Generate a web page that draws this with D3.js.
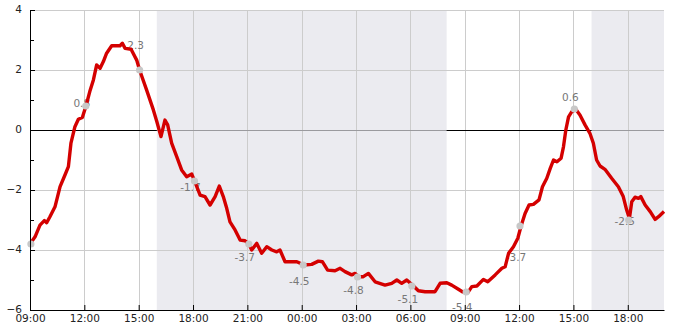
<!DOCTYPE html>
<html><head><meta charset="utf-8">
<script src="https://cdn.jsdelivr.net/npm/d3@7"></script>
<style>body{margin:0;background:#fff;} svg{display:block;font-family:"DejaVu Sans",sans-serif;}</style>
</head><body><svg id="c" width="685" height="330"></svg>
<script>
// ---- data ----
const hours = [0.00,0.28,0.55,0.79,0.92,1.10,1.38,1.66,1.93,2.12,2.26,2.48,2.67,2.89,3.09,3.30,3.50,3.68,3.87,4.05,4.23,4.51,4.97,5.10,5.25,5.58,5.89,6.05,6.44,6.81,7.00,7.23,7.45,7.60,7.82,8.10,8.37,8.65,8.93,9.10,9.39,9.66,9.94,10.22,10.45,10.67,10.86,11.04,11.32,11.60,11.87,12.09,12.24,12.52,12.79,13.07,13.35,13.62,13.80,14.08,14.73,15.13,15.55,15.92,16.14,16.43,16.84,17.12,17.39,17.76,17.95,18.13,18.40,18.68,19.05,19.60,19.97,20.25,20.52,20.80,21.17,21.44,21.81,22.36,22.64,23.01,23.28,23.65,23.87,24.17,24.39,24.67,25.03,25.27,25.68,26.05,26.23,26.42,26.69,26.93,27.11,27.33,27.55,27.79,28.10,28.29,28.53,28.72,28.90,29.09,29.32,29.45,29.58,29.73,29.91,30.13,30.36,30.64,30.91,31.10,31.28,31.47,31.74,32.11,32.48,32.75,32.94,33.09,33.22,33.40,33.59,33.72,33.96,34.24,34.51,34.70,35.00];
const values = [-3.8,-3.56,-3.17,-3.02,-3.09,-2.89,-2.56,-1.89,-1.5,-1.22,-0.44,0.11,0.36,0.42,0.8,1.28,1.67,2.17,2.06,2.28,2.56,2.81,2.81,2.89,2.72,2.69,2.33,2.0,1.33,0.67,0.28,-0.22,0.33,0.17,-0.44,-0.89,-1.33,-1.56,-1.47,-1.72,-2.17,-2.22,-2.5,-2.22,-1.87,-2.22,-2.61,-3.06,-3.33,-3.67,-3.69,-3.8,-4.0,-3.78,-4.11,-3.89,-4.0,-4.06,-4.0,-4.39,-4.39,-4.5,-4.48,-4.37,-4.39,-4.67,-4.69,-4.61,-4.72,-4.83,-4.78,-4.89,-4.89,-4.78,-5.06,-5.17,-5.11,-5.0,-5.11,-5.0,-5.2,-5.36,-5.39,-5.39,-5.11,-5.09,-5.17,-5.31,-5.39,-5.42,-5.22,-5.2,-4.98,-5.06,-4.83,-4.61,-4.56,-4.11,-3.89,-3.61,-3.2,-2.78,-2.5,-2.48,-2.33,-1.89,-1.61,-1.28,-1.0,-1.06,-0.94,-0.56,0.0,0.44,0.61,0.69,0.5,0.17,-0.11,-0.44,-1.0,-1.2,-1.31,-1.61,-1.89,-2.22,-2.67,-2.95,-2.39,-2.24,-2.28,-2.22,-2.5,-2.72,-2.98,-2.89,-2.72];
const annoHours  = [0.05,3.08,6.05,9.08,12.08,15.08,18.08,21.08,24.08,27.05,30.05,33.05];
const annoValues = [-3.8,0.8,2.0,-1.7,-3.8,-4.5,-4.9,-5.2,-5.4,-3.2,0.7,-3.0];
const annoLabels = ["","0.8","2.3","-1.7","-3.7","-4.5","-4.8","-5.1","-5.4","-3.7","0.6","-2.5"];
const nightStart = [7,31];
const nightEnd   = [23,35];
const yTicks = [-6,-4,-2,0,2,4];
const yMinorTicks = [-5,-3,-1,1,3];
const startTime = new Date(2024,0,1,9,0);
const totalHours = 35;

// ---- style (label placement, px relative to the dot) ----
const labelDy = [0,1,-21,10,17,20,17,17,19,35,-8,5];

const svg = d3.select("#c");
const L=30, R=664, T=10, B=310;
const toDate = h => new Date(startTime.getTime()+h*3600e3);
const x = d3.scaleTime().domain([startTime,toDate(totalHours)]).range([L,R]);
const y = d3.scaleLinear().domain([-6,4]).range([B,T]);

// night shading
svg.selectAll("rect.night").data(nightStart.map((s,i)=>[s,nightEnd[i]])).enter().append("rect")
  .attr("x",d=>x(toDate(d[0]))).attr("y",T)
  .attr("width",d=>x(toDate(d[1]))-x(toDate(d[0]))).attr("height",B-T)
  .attr("fill","#ebebf0");

// grid
const xGrid = x.ticks(d3.timeHour.every(3)).filter(t=>x(t)>L+1);
svg.selectAll("line.vg").data(xGrid).enter().append("line")
  .attr("x1",d=>Math.round(x(d))+0.5).attr("x2",d=>Math.round(x(d))+0.5).attr("y1",T).attr("y2",B)
  .attr("stroke","#cccccc").attr("stroke-width",1);
svg.selectAll("line.hg").data(yTicks.filter(v=>v!==0&&v!==-6)).enter().append("line")
  .attr("x1",L).attr("x2",R).attr("y1",d=>Math.round(y(d))+0.5).attr("y2",d=>Math.round(y(d))+0.5)
  .attr("stroke","#cccccc").attr("stroke-width",1);

// zero line: black on day, grey in night regions
svg.append("line").attr("x1",L).attr("x2",R).attr("y1",Math.round(y(0))+0.5).attr("y2",Math.round(y(0))+0.5)
  .attr("stroke","#000").attr("stroke-width",1);
svg.selectAll("line.zn").data(nightStart.map((s,i)=>[s,nightEnd[i]])).enter().append("line")
  .attr("x1",d=>x(toDate(d[0]))).attr("x2",d=>x(toDate(d[1])))
  .attr("y1",Math.round(y(0))+0.5).attr("y2",Math.round(y(0))+0.5)
  .attr("stroke","#9a9a9e").attr("stroke-width",1);

// annotation labels (below line)
svg.selectAll("text.al").data(annoLabels.map((t,i)=>({t,i}))).enter().append("text")
  .attr("x",d=>x(toDate(annoHours[d.i]))-4)
  .attr("y",d=>y(annoValues[d.i])+labelDy[d.i])
  .attr("text-anchor","middle").attr("font-size",10.5).attr("fill","#777")
  .text(d=>d.t);

// series line
const pts = hours.map((h,i)=>[toDate(h),values[i]]);
svg.append("path").datum(pts)
  .attr("d",d3.line().x(d=>x(d[0])).y(d=>y(d[1])))
  .attr("fill","none").attr("stroke","#d40000").attr("stroke-width",3.4).attr("stroke-linejoin","round");

// annotation dots
svg.selectAll("circle.ad").data(annoHours.map((h,i)=>[toDate(h),annoValues[i]])).enter().append("circle")
  .attr("cx",d=>x(d[0])).attr("cy",d=>y(d[1])).attr("r",3.6).attr("fill","#c8c8c8");

// axes
const gy = svg.append("g").attr("transform",`translate(${L},0)`)
  .call(d3.axisLeft(y).tickValues(yTicks).tickSize(-5).tickSizeOuter(0).tickPadding(8));
gy.selectAll("text").attr("dy","0.22em");
const gym = svg.append("g").attr("transform",`translate(${L},0)`)
  .call(d3.axisLeft(y).tickValues(yMinorTicks).tickSize(-4).tickFormat("").tickSizeOuter(0));
gym.select(".domain").remove();
const gx = svg.append("g").attr("transform",`translate(0,${B})`)
  .call(d3.axisBottom(x).ticks(d3.timeHour.every(3)).tickFormat(d3.timeFormat("%H:%M")).tickSize(-5).tickSizeOuter(0).tickPadding(5));
[gy,gym,gx].forEach(g=>{
  g.selectAll("path,line").attr("stroke","#000");
  g.selectAll("text").attr("font-size",10.5).attr("fill","#222").attr("font-family","DejaVu Sans, sans-serif");
});
</script></body></html>
